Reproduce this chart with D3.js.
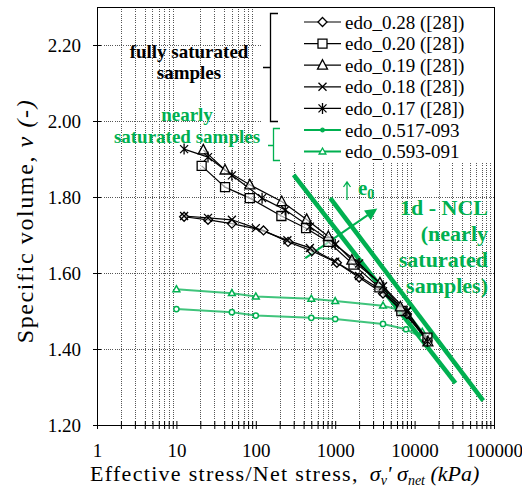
<!DOCTYPE html>
<html><head><meta charset="utf-8">
<script src="https://cdn.jsdelivr.net/npm/d3@7"></script>
<style>body{margin:0;background:#fff} svg{display:block}</style>
</head><body><svg id="c" width="522" height="502"></svg>
<script>
// ---------- data ----------
const xTickLabels = [1, 10, 100, 1000, 10000, 100000];
const yTickValues = [1.2, 1.4, 1.6, 1.8, 2.0, 2.2];

const seriesNames = ["edo_0.28 ([28])", "edo_0.20 ([28])", "edo_0.19 ([28])", "edo_0.18 ([28])", "edo_0.17 ([28])", "edo_0.517-093", "edo_0.593-091"];

const edo028 = [[12.5,1.748],[25,1.740],[50,1.730],[125,1.712],[255,1.682],[510,1.658],[1050,1.627],[2000,1.588],[4000,1.546],[8000,1.492],[14500,1.422]];
const edo020 = [[20.8,1.882],[41,1.826],[84,1.797],[210,1.750],[430,1.718],[820,1.682],[1700,1.622],[3600,1.562],[6800,1.500],[14500,1.430]];
const edo019 = [[21.8,1.924],[41,1.871],[84,1.832],[212,1.788],[437,1.741],[820,1.696],[1620,1.634],[3660,1.574],[6600,1.511],[14700,1.419]];
const edo018 = [[12.5,1.750],[25,1.745],[50,1.740],[100,1.718],[250,1.686],[480,1.666],[1000,1.630],[2000,1.592],[4000,1.552],[8000,1.498],[14000,1.430]];
const edo017 = [[12.5,1.926],[25,1.905],[50,1.857],[120,1.797],[235,1.766],[480,1.722],[1000,1.675],[2000,1.625],[4000,1.565],[8000,1.500],[14500,1.420]];
const edo517 = [[10,1.505],[50,1.497],[100,1.488],[500,1.482],[1000,1.479],[4000,1.466],[7800,1.452],[12500,1.430]];
const edo593 = [[10,1.557],[50,1.547],[100,1.538],[500,1.532],[1000,1.526],[4000,1.514],[8000,1.498],[12500,1.445]];

const ncl1 = [[300,1.858],[32700,1.310]];
const ncl2 = [[867,1.797],[73100,1.264]];
const e0Arrow = [[420,1.639],[3200,1.766]];

// ---------- setup ----------
const svg = d3.select("#c");
const X0 = 97, X1 = 494, Y0 = 425, Y1 = 7;
const x = d3.scaleLog().domain([1, 100000]).range([X0, X1]);
const y = d3.scaleLinear().domain([1.2, 2.3]).range([Y0, Y1]);
const serif = "'Liberation Serif','Times New Roman',serif";
const GREEN = "#00B050";

// gridlines
const minor = [];
for (let d = 1; d < 100000; d *= 10) for (let k = 2; k <= 9; k++) minor.push(d * k);
const grid = svg.append("g").attr("stroke", "#555").attr("stroke-width", 1).attr("stroke-dasharray", "1,1.2").attr("shape-rendering","crispEdges");
grid.selectAll("line.v").data(minor).join("line").attr("class","v")
  .attr("x1", d => Math.round(x(d)) + 0.5).attr("x2", d => Math.round(x(d)) + 0.5)
  .attr("y1", Y1).attr("y2", Y0);
grid.selectAll("line.h").data(yTickValues.slice(1)).join("line").attr("class","h")
  .attr("x1", X0).attr("x2", X1)
  .attr("y1", d => Math.round(y(d)) + 0.5).attr("y2", d => Math.round(y(d)) + 0.5);

// legend background
svg.append("rect").attr("x", 262).attr("y", Y1 + 1).attr("width", X1 - 262).attr("height", 155).attr("fill", "#fff");

// axes
const xAxis = svg.append("g").attr("transform", `translate(0,${Y0})`)
  .call(d3.axisBottom(x).tickValues(xTickLabels.concat(minor)).tickFormat(d => xTickLabels.includes(d) ? String(d) : "").tickSize(4));
xAxis.select(".domain").remove();
xAxis.selectAll(".tick line").attr("y1", -4).attr("y2", 4).attr("stroke", "#000");
xAxis.selectAll(".tick text").attr("y", 32).attr("dy", 0).attr("font-family", serif).attr("font-size", 19).attr("fill", "#000");

const yAxis = svg.append("g").attr("transform", `translate(${X0},0)`)
  .call(d3.axisLeft(y).tickValues(yTickValues).tickFormat(d3.format(".2f")).tickSize(4));
yAxis.select(".domain").remove();
yAxis.selectAll(".tick line").attr("x1", -4).attr("x2", 4).attr("stroke", "#000");
yAxis.selectAll(".tick text").attr("x", -16).attr("font-family", serif).attr("font-size", 19).attr("fill", "#000");

svg.append("rect").attr("x", X0 + 0.5).attr("y", Y1 + 0.5).attr("width", X1 - X0).attr("height", Y0 - Y1)
  .attr("fill", "none").attr("stroke", "#000").attr("stroke-width", 1);

// ---------- symbols ----------
const SYM = {
  diamond: "M0,-4.5L4.5,0L0,4.5L-4.5,0Z",
  square: "M-4.5,-4.5H4.5V4.5H-4.5Z",
  triangle: "M0,-5.5L5,4L-5,4Z",
  x: "M-4,-4L4,4M-4,4L4,-4",
  star: "M-4,-4L4,4M-4,4L4,-4M0,-5.5V5.5",
  gcirc: "M2.6,0A2.6,2.6 0 1 1 -2.6,0A2.6,2.6 0 1 1 2.6,0Z",
  gtri: "M0,-3.6L3.4,2.4L-3.4,2.4Z",
  gdot: "M1.8,0A1.8,1.8 0 1 1 -1.8,0A1.8,1.8 0 1 1 1.8,0Z"
};

const line = d3.line().x(d => x(d[0])).y(d => y(d[1]));

// NCL lines
[ncl1, ncl2].forEach(s => svg.append("path").attr("d", line(s)).attr("fill", "none").attr("stroke", GREEN).attr("stroke-width", 4.5));

// e0 arrow
svg.append("defs").append("marker").attr("id", "ah").attr("viewBox", "0 0 10 10").attr("refX", 8).attr("refY", 5)
  .attr("markerWidth", 14).attr("markerHeight", 12).attr("markerUnits", "userSpaceOnUse").attr("orient", "auto")
  .append("path").attr("d", "M0,0L10,5L0,10Z").attr("fill", GREEN);
svg.append("path").attr("d", line(e0Arrow)).attr("fill", "none").attr("stroke", GREEN).attr("stroke-width", 2).attr("marker-end", "url(#ah)");

// green series
const greens = [{d: edo517, s: "gcirc"}, {d: edo593, s: "gtri"}];
greens.forEach(g => {
  svg.append("path").attr("d", line(g.d)).attr("fill", "none").attr("stroke", GREEN).attr("stroke-opacity", 0.75).attr("stroke-width", 2);
  svg.append("g").selectAll("path").data(g.d).join("path")
    .attr("transform", d => `translate(${x(d[0])},${y(d[1])})`).attr("d", SYM[g.s])
    .attr("fill", "#fff").attr("stroke", GREEN).attr("stroke-width", 1.5);
});

// black series
const blacks = [{d: edo028, s: "diamond"}, {d: edo018, s: "x"}, {d: edo020, s: "square"}, {d: edo019, s: "triangle"}, {d: edo017, s: "star"}];
blacks.forEach(b => {
  svg.append("path").attr("d", line(b.d)).attr("fill", "none").attr("stroke", "#000").attr("stroke-width", 1.2);
});
blacks.forEach(b => {
  svg.append("g").selectAll("path").data(b.d).join("path")
    .attr("transform", d => `translate(${x(d[0])},${y(d[1])})`).attr("d", SYM[b.s])
    .attr("fill", b.s === "x" || b.s === "star" ? "none" : "#fff").attr("fill-opacity", 0.6).attr("stroke", "#000").attr("stroke-width", 1.3);
});

// ---------- legend ----------
const legSyms = ["diamond", "square", "triangle", "x", "star", "gdot", "gtri"];
const legCols = ["#000", "#000", "#000", "#000", "#000", GREEN, GREEN];
const lg = svg.append("g");
seriesNames.forEach((n, i) => {
  const yy = 22 + i * 21.6;
  lg.append("line").attr("x1", 304).attr("x2", 341).attr("y1", yy).attr("y2", yy).attr("stroke", legCols[i]).attr("stroke-width", i < 5 ? 1.2 : 2);
  lg.append("path").attr("transform", `translate(322.5,${yy})`).attr("d", SYM[legSyms[i]])
    .attr("fill", legSyms[i] === "gdot" ? GREEN : "#fff").attr("stroke", legCols[i]).attr("stroke-width", 1.3);
  lg.append("text").attr("x", 345).attr("y", yy + 6.5).attr("font-family", serif).attr("font-size", 19).attr("fill", "#000").text(n);
});
// brackets
svg.append("path").attr("d", "M278,13.5H270.5V121.5H278M270.5,67.5H263").attr("fill", "none").attr("stroke", "#000").attr("stroke-width", 1.3);
svg.append("path").attr("d", "M280,128.5H273.5V160.5H280M273.5,145.5H268").attr("fill", "none").attr("stroke", GREEN).attr("stroke-width", 1.3);

// ---------- annotations ----------
const bold = (t, xx, yy, col, anchor, size) => svg.append("text").attr("x", xx).attr("y", yy).attr("text-anchor", anchor)
  .attr("font-family", serif).attr("font-weight", "bold").attr("font-size", size).attr("fill", col).text(t);
bold("fully saturated", 189, 58, "#000", "middle", 19);
bold("samples", 189, 79, "#000", "middle", 19);
bold("nearly", 187, 121, GREEN, "middle", 19);
bold("saturated samples", 187, 143, GREEN, "middle", 19);

bold("1d - NCL", 488, 215, GREEN, "end", 22);
bold("(nearly", 488, 241, GREEN, "end", 22);
bold("saturated", 488, 267, GREEN, "end", 22);
bold("samples)", 488, 293, GREEN, "end", 22);

// up arrow + e0
svg.append("path").attr("d", "M347,200V182.5M343.5,187L347,182L350.5,187").attr("fill", "none").attr("stroke", GREEN).attr("stroke-width", 1.3);
const e0 = svg.append("text").attr("x", 358).attr("y", 195).attr("font-family", serif).attr("font-weight", "bold").attr("font-size", 21).attr("fill", GREEN);
e0.append("tspan").text("e");
e0.append("tspan").attr("font-size", 14).attr("dy", 4).text("0");

// axis titles
const xt = svg.append("text").attr("x", 90).attr("y", 481).attr("font-family", serif).attr("font-size", 22).attr("fill", "#000");
xt.append("tspan").attr("letter-spacing", 1.3).text("Effective stress/Net stress,");
xt.append("tspan").text("\u00a0\u00a0");
xt.append("tspan").attr("font-style", "italic").text("\u03c3");
xt.append("tspan").attr("font-style", "italic").attr("font-size", 14).attr("dy", 4).text("v");
xt.append("tspan").attr("font-style", "italic").attr("dy", -4).text("'\u00a0\u03c3");
xt.append("tspan").attr("font-style", "italic").attr("font-size", 14).attr("dy", 4).text("net");
xt.append("tspan").attr("font-style", "italic").attr("dy", -4).text("\u00a0(kPa)");

const yt = svg.append("text").attr("transform", "translate(33,221) rotate(-90)").attr("text-anchor", "middle")
  .attr("font-family", serif).attr("font-size", 24).attr("letter-spacing", 1.6).attr("fill", "#000");
yt.append("tspan").text("Specific volume, ");
yt.append("tspan").attr("font-style", "italic").text("v (-)");
</script></body></html>
